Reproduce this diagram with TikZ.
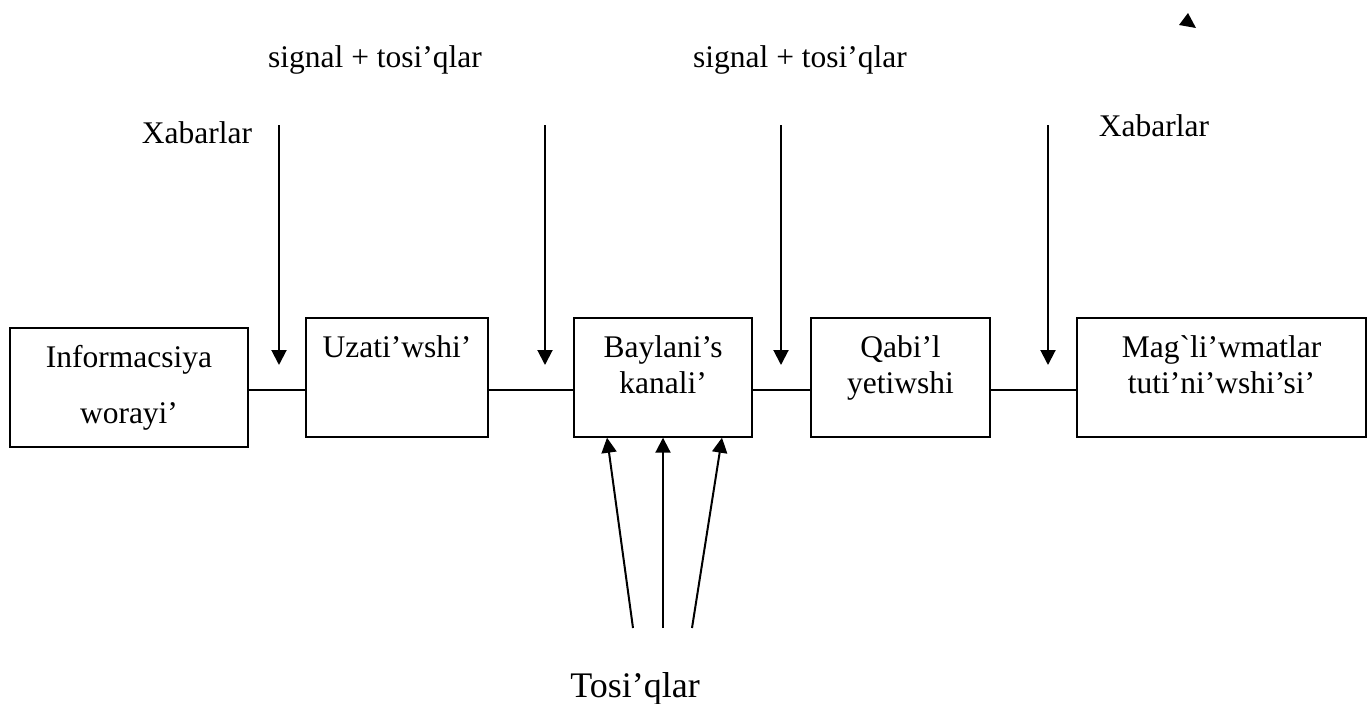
\documentclass[tikz,border=0pt]{standalone}
\usepackage{fontspec}
\setmainfont{Liberation Serif}
\usetikzlibrary{arrows.meta}
\tikzset{
  box/.style={draw, line width=1.4pt, inner sep=0pt, align=center, anchor=base,
    text height=75pt, text depth=44pt},
  arr/.style={line width=2pt, -{Triangle[length=15pt,width=15pt]}}
}
\begin{document}
\begin{tikzpicture}[x=1pt,y=-1pt,font=\fontsize{31.5}{36}\selectfont]
  \useasboundingbox (0,0) rectangle (1368,704);
  \draw
    (129,423) node[box, minimum width=238pt, text height=95pt, text depth=24pt] (0) {Informacsiya\\[20pt]worayi'}
    (397,357) node[box, minimum width=182pt, text height=39pt, text depth=80pt] (1) {Uzati'wshi'}
    (663,393) node[box, minimum width=178pt] (2) {Baylani's\\kanali'}
    (900.5,393) node[box, minimum width=179pt] (3) {Qabi'l\\yetiwshi}
    (1221.5,393) node[box, minimum width=289pt] (4) {Mag\textasciigrave li'wmatlar\\tuti'ni'wshi'si'};
  \draw
    (197,143) node[anchor=base] (x1) {Xabarlar}
    (375,67) node[anchor=base] (s1) {signal + tosi'qlar}
    (800,67) node[anchor=base] (s2) {signal + tosi'qlar}
    (1154,136) node[anchor=base] (x2) {Xabarlar}
    (635,697) node[anchor=base, font=\fontsize{36}{40}\selectfont] (t) {Tosi'qlar};
  % free ends
  \coordinate (a1) at (279,125);  \coordinate (b1) at (279,365);
  \coordinate (a2) at (545,125);  \coordinate (b2) at (545,365);
  \coordinate (a3) at (781,125);  \coordinate (b3) at (781,365);
  \coordinate (a4) at (1048,125); \coordinate (b4) at (1048,365);
  \coordinate (n1) at (633,628);
  \coordinate (n2) at (663,628);
  \coordinate (n3) at (692,628);
  \coordinate (c) at (0,390);
  \begin{scope}[line width=1.4pt]
    \draw (0.east |- c) -- (1.west |- c);
    \draw (1.east |- c) -- (2.west |- c);
    \draw (2.east |- c) -- (3.west |- c);
    \draw (3.east |- c) -- (4.west |- c);
  \end{scope}
  \begin{scope}[arr]
    \draw (a1) to (b1);
    \draw (a2) to (b2);
    \draw (a3) to (b3);
    \draw (a4) to (b4);
    \draw (n1) to ([xshift=-56pt]2.south);
    \draw (n2) to (2.south);
    \draw (n3) to ([xshift=59pt]2.south);
  \end{scope}
  \fill (1179,25) -- (1188,13) -- (1196,28) -- cycle;
\end{tikzpicture}
\end{document}
